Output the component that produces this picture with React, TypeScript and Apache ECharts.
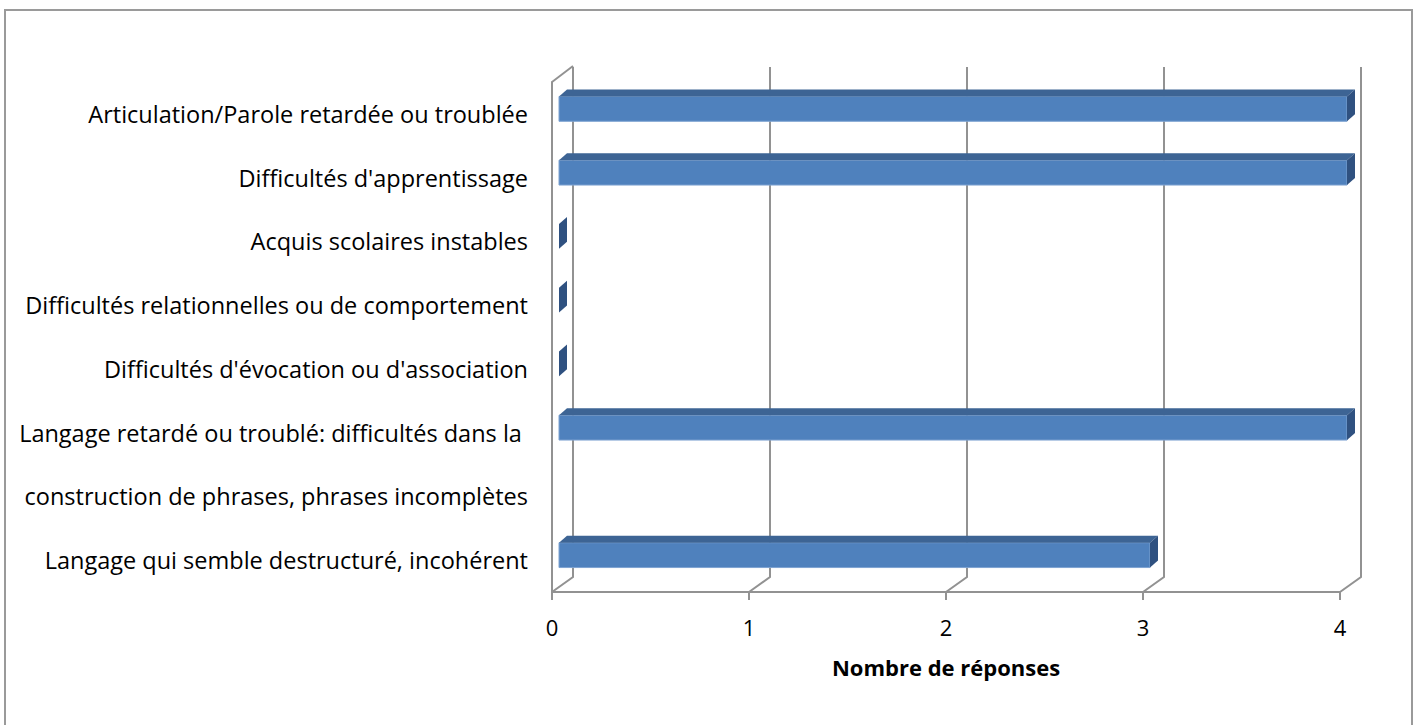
import React, { useEffect, useRef } from "react";
import * as echarts from "echarts";

const categories = [
  "Articulation/Parole retardée ou troublée",
  "Difficultés d'apprentissage",
  "Acquis scolaires instables",
  "Difficultés relationnelles ou de comportement",
  "Difficultés d'évocation ou d'association",
  "Langage retardé ou troublé: difficultés dans la ",
  "construction de phrases, phrases incomplètes",
  "Langage qui semble destructuré, incohérent",
];
const values: (number | null)[] = [4, 4, 0, 0, 0, 4, null, 3];
const xTicks = [0, 1, 2, 3, 4];
const axisTitle = "Nombre de réponses";

const FONT = "'Open Sans', sans-serif";
const GRID_COLOR = "#929292";
const WALL_DX = 21;
const WALL_DY = -16;

export default function App() {
  const ref = useRef<HTMLDivElement>(null);
  useEffect(() => {
    if (!ref.current) return;
    const chart = echarts.init(ref.current, undefined, { renderer: "svg" });
    const barData = values.map((v, i) => [v === null ? "-" : v, i]);
    chart.setOption({
      animation: false,
      backgroundColor: "#ffffff",
      graphic: [
        {
          type: "rect",
          shape: { x: 5, y: 10, width: 1407, height: 740 },
          style: { fill: "none", stroke: "#9a9a9a", lineWidth: 2 },
          z: 0,
        },
      ],
      grid: { left: 552, top: 82, width: 788, height: 510, containLabel: false },
      xAxis: {
        type: "value",
        min: 0,
        max: 4,
        interval: 1,
        axisLine: { show: true, lineStyle: { color: GRID_COLOR, width: 2 } },
        axisTick: { show: true, length: 8, lineStyle: { color: GRID_COLOR, width: 2 } },
        splitLine: { show: false },
        axisLabel: {
          margin: 24,
          fontFamily: FONT,
          fontSize: 22,
          color: "#000",
          formatter: (v: number) => (xTicks.includes(v) ? String(v) : ""),
        },
        name: axisTitle,
        nameLocation: "middle",
        nameGap: 64,
        nameTextStyle: { fontFamily: FONT, fontSize: 22, fontWeight: "bold", color: "#000" },
      },
      yAxis: {
        type: "category",
        inverse: true,
        data: categories,
        axisLine: { show: true, lineStyle: { color: GRID_COLOR, width: 2 } },
        axisTick: { show: false },
        splitLine: { show: false },
        axisLabel: {
          margin: 24,
          fontFamily: FONT,
          fontSize: 23.5,
          color: "#000",
          padding: [10, 0, 0, 0],
        },
      },
      series: [
        {
          type: "custom",
          z: 1,
          silent: true,
          data: xTicks.map((t) => [t, 0]),
          encode: { x: 0, y: 1 },
          renderItem: (params: any, api: any) => {
            const v = api.value(0);
            const cs = params.coordSys;
            const p = api.coord([v, 0]);
            const px = p[0];
            const top = cs.y;
            const bottom = cs.y + cs.height;
            const style = { stroke: GRID_COLOR, lineWidth: 2, fill: "none" };
            const children: any[] = [
              {
                type: "polyline",
                shape: {
                  points: [
                    [px, bottom],
                    [px + WALL_DX, bottom + WALL_DY + 1],
                    [px + WALL_DX, top + WALL_DY + 1],
                  ],
                },
                style,
              },
            ];
            if (v === 0) {
              children.push({
                type: "line",
                shape: { x1: px, y1: top, x2: px + WALL_DX, y2: top + WALL_DY },
                style,
              });
            }
            return { type: "group", children };
          },
        },
        {
          type: "custom",
          z: 5,
          data: barData,
          encode: { x: 0, y: 1 },
          renderItem: (params: any, api: any) => {
            const v = api.value(0);
            if (v === null || v === undefined || isNaN(v)) return null;
            const c = api.value(1);
            const s = api.coord([0, c]);
            const e = api.coord([v, c]);
            const band = api.size([0, 1])[1];
            const h = band * 0.39;
            const ox = 7;
            const oy = -5;
            const ddx = 8;
            const ddy = -7;
            const x0 = s[0] + ox;
            const x1 = e[0] + ox;
            const yTop = s[1] + oy - h / 2;
            const yBot = yTop + h;
            const children: any[] = [];
            if (x1 > x0 + 0.5) {
              children.push({
                type: "rect",
                shape: { x: x0, y: yTop, width: x1 - x0, height: h },
                style: { fill: "#4F81BD", stroke: "#7ea3d1", lineWidth: 1 },
              });
              children.push({
                type: "polygon",
                shape: {
                  points: [
                    [x0, yTop],
                    [x1, yTop],
                    [x1 + ddx, yTop + ddy],
                    [x0 + ddx, yTop + ddy],
                  ],
                },
                style: { fill: "#3D6494" },
              });
            }
            children.push({
              type: "polygon",
              shape: {
                points: [
                  [x1, yTop],
                  [x1 + ddx, yTop + ddy],
                  [x1 + ddx, yBot + ddy],
                  [x1, yBot],
                ],
              },
              style: { fill: "#2F5180" },
            });
            return { type: "group", children };
          },
        },
      ],
    });
    return () => chart.dispose();
  }, []);
  return (
    <div
      ref={ref}
      style={{ position: "fixed", left: 0, top: 0, width: 1418, height: 725, background: "#fff" }}
    />
  );
}
